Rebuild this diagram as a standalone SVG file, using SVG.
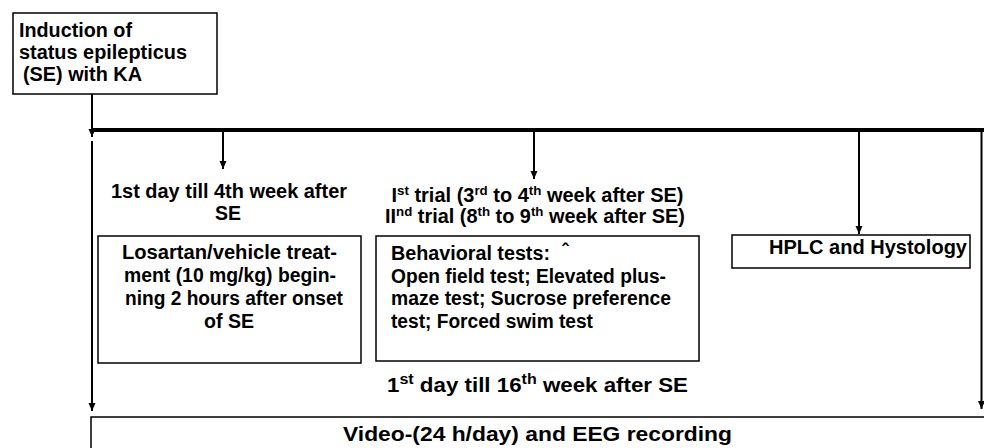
<svg xmlns="http://www.w3.org/2000/svg" width="984" height="448" viewBox="0 0 984 448">
<style>
  text { font-family: "Liberation Sans", Arial, sans-serif; font-weight: bold; fill: #000; font-size: 19.5px; }
  .box { fill: #fff; stroke: #000; stroke-width: 1.5; }
  .conn { stroke: #000; stroke-width: 2; fill: none; }
  .sup { font-size: 13px; }
</style>
<defs>
  <marker id="arr" viewBox="0 0 8 8" refX="8" refY="4" markerWidth="8" markerHeight="8" markerUnits="userSpaceOnUse" orient="auto">
    <path d="M0,0.5 L8,4 L0,7.5 z" fill="#000"/>
  </marker>
</defs>
<rect width="984" height="448" fill="#fff"/>

<g id="connectors">
  <line class="conn" x1="92" y1="94" x2="92" y2="137" marker-end="url(#arr)"/>
  <line x1="92" y1="130" x2="984" y2="130" stroke="#000" stroke-width="4"/>
  <line class="conn" x1="92" y1="141" x2="92" y2="411" marker-end="url(#arr)"/>
  <line class="conn" x1="223" y1="132" x2="223" y2="169" marker-end="url(#arr)"/>
  <line class="conn" x1="534" y1="132" x2="534" y2="179" marker-end="url(#arr)"/>
  <line class="conn" x1="859" y1="132" x2="859" y2="234" marker-end="url(#arr)"/>
  <line class="conn" x1="981.5" y1="132" x2="981.5" y2="409" marker-end="url(#arr)"/>
</g>

<g id="induction">
  <rect class="box" x="13" y="13" width="204" height="81"/>
  <text x="19" y="37" textLength="113" lengthAdjust="spacingAndGlyphs">Induction of</text>
  <text x="19" y="59" textLength="168" lengthAdjust="spacingAndGlyphs">status epilepticus</text>
  <text x="23" y="81" textLength="119" lengthAdjust="spacingAndGlyphs">(SE) with KA</text>
</g>

<g id="label-week4">
  <text x="111" y="197.5" textLength="236" lengthAdjust="spacingAndGlyphs">1st day till 4th week after</text>
  <text x="228" y="220" text-anchor="middle">SE</text>
</g>

<g id="losartan">
  <rect class="box" x="98" y="236" width="263" height="127"/>
  <text x="122" y="259" textLength="215" lengthAdjust="spacingAndGlyphs">Losartan/vehicle treat-</text>
  <text x="124" y="282" textLength="212" lengthAdjust="spacingAndGlyphs">ment (10 mg/kg) begin-</text>
  <text x="125" y="305" textLength="218" lengthAdjust="spacingAndGlyphs">ning 2 hours after onset</text>
  <text x="204" y="328" textLength="50" lengthAdjust="spacingAndGlyphs">of SE</text>
</g>

<g id="label-trials">
  <text x="391.5" y="202" textLength="292" lengthAdjust="spacingAndGlyphs">I<tspan class="sup" dy="-7">st</tspan><tspan dy="7"> trial (3</tspan><tspan class="sup" dy="-7">rd</tspan><tspan dy="7"> to 4</tspan><tspan class="sup" dy="-7">th</tspan><tspan dy="7"> week after SE)</tspan></text>
  <text x="385" y="223" textLength="300" lengthAdjust="spacingAndGlyphs">II<tspan class="sup" dy="-7">nd</tspan><tspan dy="7"> trial (8</tspan><tspan class="sup" dy="-7">th</tspan><tspan dy="7"> to 9</tspan><tspan class="sup" dy="-7">th</tspan><tspan dy="7"> week after SE)</tspan></text>
</g>

<g id="behavioral">
  <rect class="box" x="376" y="236" width="323" height="125"/>
  <text x="391" y="260" textLength="159" lengthAdjust="spacingAndGlyphs">Behavioral tests:</text>
  <text x="562" y="258" font-size="13">ˆ</text>
  <text x="391" y="283" textLength="275" lengthAdjust="spacingAndGlyphs">Open field test; Elevated plus-</text>
  <text x="391" y="305" textLength="280" lengthAdjust="spacingAndGlyphs">maze test; Sucrose preference</text>
  <text x="391" y="328" textLength="202" lengthAdjust="spacingAndGlyphs">test; Forced swim test</text>
</g>

<g id="hplc">
  <rect class="box" x="732" y="235" width="238" height="33"/>
  <text x="769" y="254" textLength="198" lengthAdjust="spacingAndGlyphs">HPLC and Hystology</text>
</g>

<g id="label-week16">
  <text x="387" y="392" font-size="21.5" textLength="301" lengthAdjust="spacingAndGlyphs">1<tspan font-size="14" dy="-8">st</tspan><tspan dy="8"> day till 16</tspan><tspan font-size="14" dy="-8">th</tspan><tspan dy="8"> week after SE</tspan></text>
</g>

<g id="recording">
  <rect class="box" x="91" y="417" width="900" height="40"/>
  <text x="343" y="441" font-size="20.5" textLength="389" lengthAdjust="spacingAndGlyphs">Video-(24 h/day) and EEG recording</text>
</g>
</svg>
